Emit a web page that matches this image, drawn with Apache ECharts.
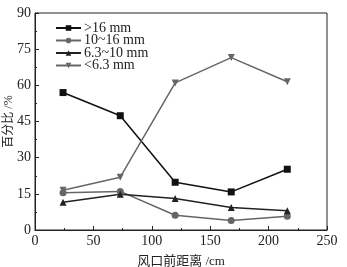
<!DOCTYPE html>
<html lang="zh-cn">
<head>
    <meta charset="UTF-8">
    <title>百分比 - 风口前距离</title>
    <script src="https://cdn.jsdelivr.net/npm/echarts@6/dist/echarts.min.js"></script>
    <style>
        body { margin: 0; background: #fff; }
        #root { width: 347px; height: 267px; }
    </style>
</head>
<body>
    <div id="root"></div>
    <script>
        // 风口前距离 /cm
        var distance = [24, 73, 120, 168, 216];
        // 各粒级百分比 /%
        var over16 = [57, 47.4, 19.8, 15.8, 25.2];
        var from10to16 = [15.5, 16, 6.1, 3.9, 5.7];
        var from6to10 = [11.5, 14.8, 13.1, 9.3, 8];
        var under6 = [16.5, 21.9, 61, 71.5, 61.5];

        var names = ['>16 mm', '10~16 mm', '6.3~10 mm', '<6.3 mm'];
        var values = [over16, from10to16, from6to10, under6];
        var colors = ['#111', '#666', '#222', '#666'];
        var symbols = ['rect', 'circle', 'triangle', 'path://M0,0 L10,0 L5,9 Z'];

        var font = '"Liberation Serif", "Noto Sans CJK SC", serif';

        function pairs(ys) {
            return distance.map(function (x, i) { return [x, ys[i]]; });
        }

        var mychart = echarts.init(document.getElementById('root'));

        mychart.setOption({
            animation: false,
            grid: { left: 35, right: 20, top: 13, bottom: 37, outerBoundsMode: 'none' },
            legend: {
                orient: 'vertical',
                left: 55,
                top: 21,
                padding: 0,
                itemGap: -1.5,
                itemWidth: 25,
                itemHeight: 7,
                textStyle: { fontFamily: font, fontSize: 14, lineHeight: 12, color: '#222', padding: [0, 0, 0, -2] },
                data: names
            },
            xAxis: {
                type: 'value',
                min: 0, max: 250, interval: 50,
                name: '风口前距离 /cm',
                nameLocation: 'middle',
                nameGap: 25,
                nameMoveOverlap: false,
                nameTextStyle: { fontFamily: font, fontSize: 13, color: '#222' },
                axisLine: { show: true, lineStyle: { color: '#222', width: 1 } },
                axisTick: { inside: true, length: 4, lineStyle: { color: '#222' } },
                minorTick: { show: true, splitNumber: 2, length: 2, lineStyle: { color: '#222' } },
                axisLabel: { fontFamily: font, fontSize: 14, color: '#222', margin: 4 },
                splitLine: { show: false }
            },
            yAxis: {
                type: 'value',
                min: 0, max: 90, interval: 15,
                name: '百分比 /%',
                nameLocation: 'middle',
                nameGap: 20,
                nameMoveOverlap: false,
                nameTextStyle: { fontFamily: font, fontSize: 12, color: '#222' },
                axisLine: { show: true, lineStyle: { color: '#222', width: 1 } },
                axisTick: { inside: true, length: 4, lineStyle: { color: '#222' } },
                minorTick: { show: true, splitNumber: 2, length: 2, lineStyle: { color: '#222' } },
                axisLabel: { fontFamily: font, fontSize: 14, color: '#222', margin: 4 },
                splitLine: { show: false }
            },
            graphic: [{
                type: 'rect',
                shape: { x: 35, y: 13, width: 292, height: 217 },
                style: { fill: 'none', stroke: '#222', lineWidth: 1 },
                silent: true
            }],
            series: names.map(function (n, k) {
                return {
                    name: n,
                    type: 'line',
                    data: pairs(values[k]),
                    symbol: symbols[k],
                    symbolSize: 7,
                    showAllSymbol: true,
                    lineStyle: { color: colors[k], width: 1.5 },
                    itemStyle: { color: colors[k] }
                };
            })
        });
    </script>
</body>
</html>
